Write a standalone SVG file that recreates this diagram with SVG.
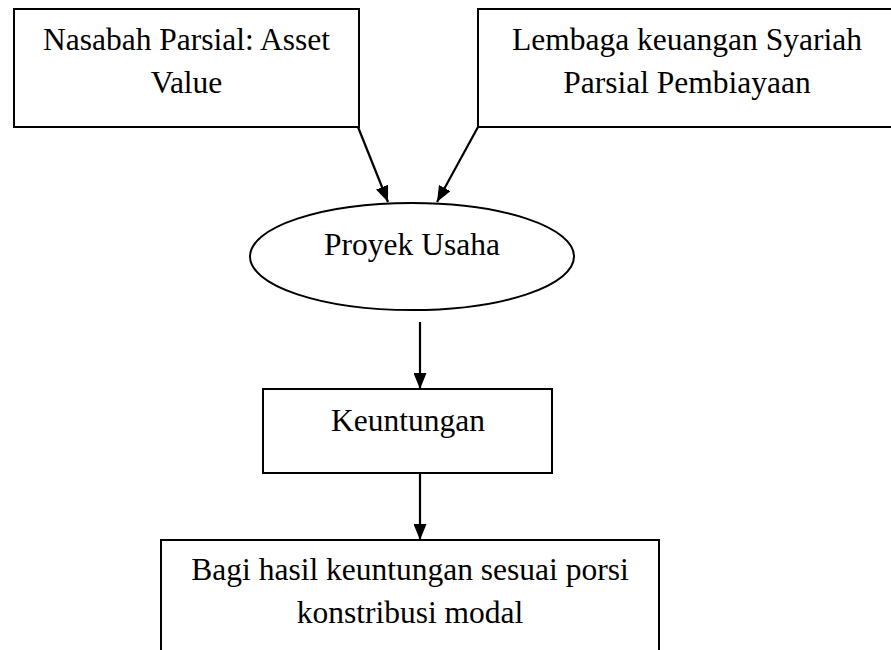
<svg xmlns="http://www.w3.org/2000/svg" width="891" height="650" viewBox="0 0 891 650">
<defs>
<marker id="ah" markerWidth="16" markerHeight="13" refX="16" refY="6.5" orient="auto" markerUnits="userSpaceOnUse" viewBox="0 0 16 13">
<path d="M0,0 L16,6.5 L0,13 Z" fill="#000"/>
</marker>
</defs>
<style>
.box{fill:#fff;stroke:#000;stroke-width:2}
.t{font-family:"Liberation Serif","Times New Roman",serif;font-size:31.5px;fill:#000;text-anchor:middle}
.c{stroke:#000;stroke-width:2.2;fill:none;marker-end:url(#ah)}
</style>
<rect width="891" height="650" fill="#fff"/>
<g id="nasabah">
<rect class="box" x="14" y="9" width="345" height="118"/>
<text class="t" x="186.5" y="50">Nasabah Parsial: Asset</text>
<text class="t" x="186.5" y="93">Value</text>
</g>
<g id="lembaga">
<rect class="box" x="478" y="9" width="420" height="118"/>
<text class="t" x="687" y="50">Lembaga keuangan Syariah</text>
<text class="t" x="687" y="93">Parsial Pembiayaan</text>
</g>
<g id="proyek">
<ellipse class="box" cx="412" cy="256.5" rx="162" ry="53.5"/>
<text class="t" x="412" y="255">Proyek Usaha</text>
</g>
<g id="keuntungan">
<rect class="box" x="263" y="389" width="289" height="84"/>
<text class="t" x="408" y="431">Keuntungan</text>
</g>
<g id="bagi">
<rect class="box" x="161" y="540" width="498" height="120"/>
<text class="t" x="410" y="580">Bagi hasil keuntungan sesuai porsi</text>
<text class="t" x="410" y="623">konstribusi modal</text>
</g>
<g id="connectors">
<line class="c" x1="358" y1="127" x2="388" y2="202"/>
<line class="c" x1="478" y1="127" x2="437" y2="202"/>
<line class="c" x1="420" y1="322" x2="420" y2="389"/>
<line class="c" x1="420" y1="473" x2="420" y2="540"/>
</g>
</svg>
